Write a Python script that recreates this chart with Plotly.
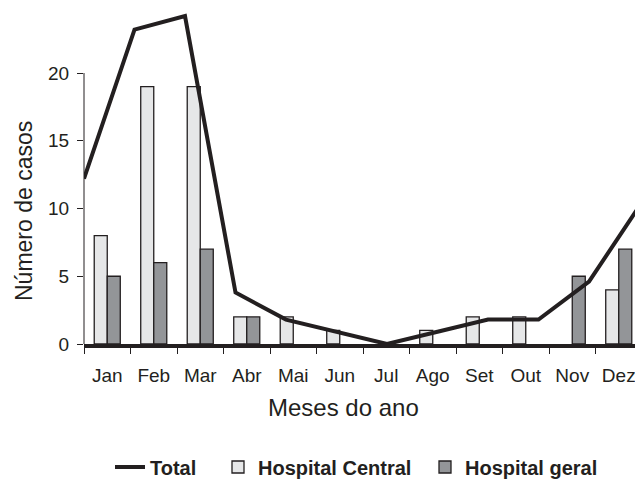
import plotly.graph_objects as go

months = ["Jan", "Feb", "Mar", "Abr", "Mai", "Jun", "Jul", "Ago", "Set", "Out", "Nov", "Dez"]
central = [8, 19, 19, 2, 2, 1, None, 1, 2, 2, None, 4]
geral = [5, 6, 7, 2, None, None, None, None, None, None, 5, 7]
total = [12.2, 23.2, 24.2, 3.8, 1.8, 0.9, 0, 0.9, 1.8, 1.8, 4.6, 10.2]
month_index = list(range(len(months)))
ytick_vals = [0, 5, 10, 15, 20]

INK = "#231f20"
FONT = "Liberation Sans, Arial, Helvetica, sans-serif"

W, H = 635, 479
ML, MR, MT, MB = 84, 0, 0, 135
PW = W - ML - MR
PH = H - MT - MB
cat_px = 46.5
line_px = 50.5
unit_px = 13.55

fig = go.Figure()
fig.add_trace(go.Scatter(
    x=month_index, y=total, name="Total", mode="lines",
    line=dict(color=INK, width=4), xaxis="x2", yaxis="y",
    legendwidth=63, cliponaxis=True,
))
fig.add_trace(go.Bar(
    x=months, y=central, name="Hospital Central",
    marker=dict(color="#e6e7e8", line=dict(color=INK, width=1.3)),
    legendwidth=162,
))
fig.add_trace(go.Bar(
    x=months, y=geral, name="Hospital geral",
    marker=dict(color="#939598", line=dict(color=INK, width=1.3)),
))

fig.update_layout(
    width=W, height=H,
    margin=dict(l=ML, r=MR, t=MT, b=MB, pad=0),
    paper_bgcolor="white", plot_bgcolor="white",
    font=dict(family=FONT, color=INK, size=19),
    barmode="group", bargap=0.44, bargroupgap=0,
    showlegend=True,
    legend=dict(
        orientation="h", x=(110 - ML) / PW, xanchor="left",
        yref="container", y=12 / H, yanchor="middle",
        font=dict(family=FONT, size=20, color=INK, weight="bold"),
        bgcolor="rgba(0,0,0,0)", itemclick=False, tracegroupgap=0,
    ),
    xaxis=dict(
        type="category", categoryorder="array", categoryarray=months,
        range=[-0.5, -0.5 + PW / cat_px],
        showline=True, linewidth=4, linecolor=INK,
        ticks="outside", tickson="boundaries", ticklen=6, tickwidth=1, tickcolor=INK,
        showgrid=False, zeroline=False,
        tickfont=dict(size=19, color=INK), ticklabelstandoff=11,
    ),
    xaxis2=dict(
        overlaying="x", range=[0, PW / line_px], visible=False,
        showgrid=False, zeroline=False,
    ),
    yaxis=dict(
        range=[0, PH / unit_px], tickvals=ytick_vals,
        ticks="outside", ticklen=6, tickwidth=1, tickcolor=INK,
        showline=False, showgrid=False, zeroline=False,
        tickfont=dict(size=19, color=INK), ticklabelstandoff=4,
    ),
    shapes=[dict(
        type="line", xref="paper", yref="y", x0=0, x1=0, y0=0, y1=20,
        line=dict(color=INK, width=1), layer="below",
    )],
    annotations=[
        dict(text="Meses do ano", xref="paper", yref="paper",
             x=(343 - ML) / PW, y=(PH - (408 - MT)) / PH,
             xanchor="center", yanchor="middle", showarrow=False,
             font=dict(size=24, color=INK, family=FONT)),
        dict(text="Número de casos", xref="paper", yref="paper",
             x=(24 - ML) / PW, y=(PH - (211 - MT)) / PH, textangle=-90,
             xanchor="center", yanchor="middle", showarrow=False,
             font=dict(size=23, color=INK, family=FONT)),
    ],
)

fig.write_html(
    "out.html",
    config={"displayModeBar": False},
    post_script="document.body.style.margin='0';document.body.style.overflow='hidden';",
)
